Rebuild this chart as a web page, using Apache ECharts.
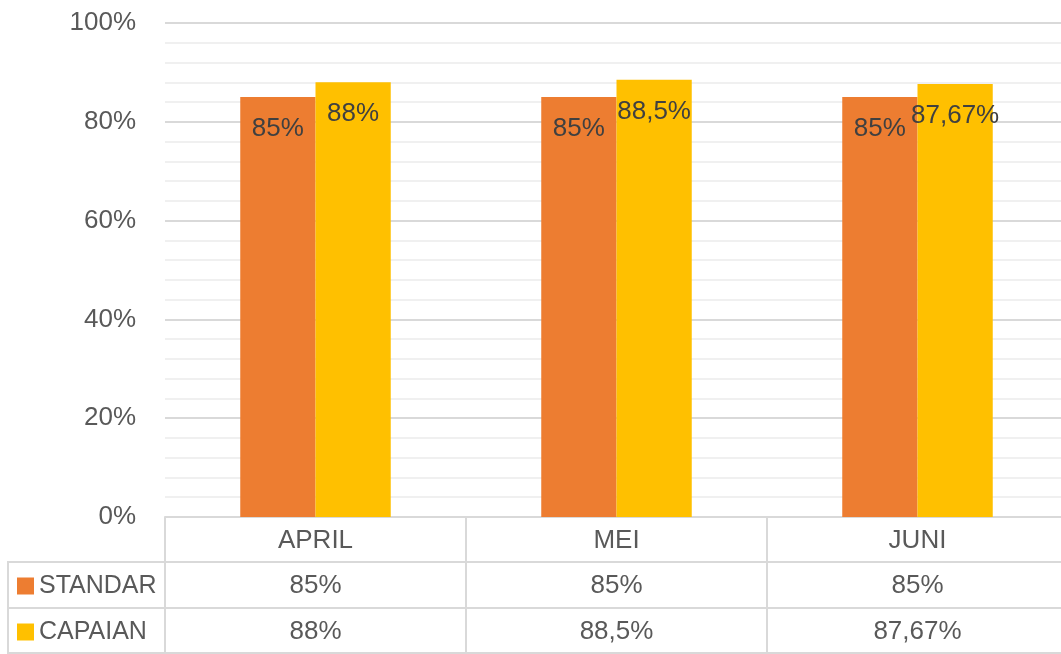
<!DOCTYPE html>
<html>
<head>
<meta charset="utf-8">
<script src="https://cdn.jsdelivr.net/npm/echarts@6/dist/echarts.min.js"></script>
<style>
  html, body { margin: 0; padding: 0; background: #fff; }
  #chart { width: 1061px; height: 654px; }
</style>
</head>
<body>
<div id="chart"></div>
<script>
// data
const months = ["APRIL", "MEI", "JUNI"];
const standar = [85, 85, 85];
const capaian = [88, 88.5, 87.67];
const yTicks = [0, 20, 40, 60, 80, 100];

// 88.5 -> "88,5%"
function pct(v) {
  return String(v).replace(".", ",") + "%";
}

const FONT = "Liberation Sans";
const GRID = "#d9d9d9";
const TXT = "#595959";
const FS = 26;

const chart = echarts.init(document.getElementById("chart"));

// table row axis (under the plot)
function rowAxis(offset, labels, showLabel) {
  return {
    type: "category",
    position: "bottom",
    offset: offset,
    data: labels,
    boundaryGap: true,
    axisLine: { show: true, lineStyle: { color: GRID, width: 2 } },
    axisTick: { show: false },
    axisLabel: {
      show: showLabel,
      interval: 0,
      margin: 11,
      color: TXT,
      fontFamily: FONT,
      fontSize: FS,
      lineHeight: 26,
    },
  };
}

const barLabel = {
  show: true,
  position: "insideTop",
  distance: 19,
  formatter: (p) => pct(p.value),
  color: "#404040",
  fontFamily: FONT,
  fontSize: FS,
};

const option = {
  animation: false,
  backgroundColor: "#fff",
  color: ["#ED7D31", "#FFC000"],
  // table columns run past the right edge of the picture
  grid: { left: 165, right: -7, top: 23, bottom: 137, outerBoundsMode: "none" },
  legend: {
    orient: "vertical",
    left: 17,
    top: 573,
    padding: 0,
    icon: "rect",
    itemWidth: 17,
    itemHeight: 17,
    itemGap: 20,
    selectedMode: false,
    textStyle: { color: TXT, fontFamily: FONT, fontSize: 25, lineHeight: 26 },
  },
  xAxis: [
    {
      type: "category",
      data: months,
      position: "bottom",
      boundaryGap: true,
      axisLine: { show: true, lineStyle: { color: GRID, width: 2 } },
      axisTick: { show: true, interval: 0, length: 136, lineStyle: { color: GRID, width: 2 } },
      axisLabel: {
        interval: 0,
        margin: 11,
        color: TXT,
        fontFamily: FONT,
        fontSize: FS,
        lineHeight: 26,
      },
    },
    rowAxis(45, standar.map(pct), true),
    rowAxis(91, capaian.map(pct), true),
    rowAxis(136, months, false),
  ],
  yAxis: {
    type: "value",
    min: yTicks[0],
    max: yTicks[yTicks.length - 1],
    interval: 20,
    axisLine: { show: false },
    axisTick: { show: false },
    axisLabel: {
      formatter: "{value}%",
      margin: 29,
      color: TXT,
      fontFamily: FONT,
      fontSize: FS,
    },
    splitLine: { lineStyle: { color: GRID, width: 2 } },
    minorTick: { show: false, splitNumber: 5 },
    minorSplitLine: { show: true, lineStyle: { color: "#f0f0f0", width: 2 } },
  },
  graphic: [
    // row header column borders (left of the plot)
    { type: "line", shape: { x1: 8, y1: 562, x2: 165, y2: 562 }, style: { stroke: GRID, lineWidth: 2 } },
    { type: "line", shape: { x1: 8, y1: 608, x2: 165, y2: 608 }, style: { stroke: GRID, lineWidth: 2 } },
    { type: "line", shape: { x1: 8, y1: 653, x2: 165, y2: 653 }, style: { stroke: GRID, lineWidth: 2 } },
    { type: "line", shape: { x1: 8, y1: 561, x2: 8, y2: 654 }, style: { stroke: GRID, lineWidth: 2 } },
  ],
  series: [
    {
      name: "STANDAR",
      type: "bar",
      data: standar,
      barGap: "0%",
      barCategoryGap: "50%",
      label: barLabel,
    },
    {
      name: "CAPAIAN",
      type: "bar",
      data: capaian,
      label: barLabel,
    },
  ],
};

chart.setOption(option);
</script>
</body>
</html>
